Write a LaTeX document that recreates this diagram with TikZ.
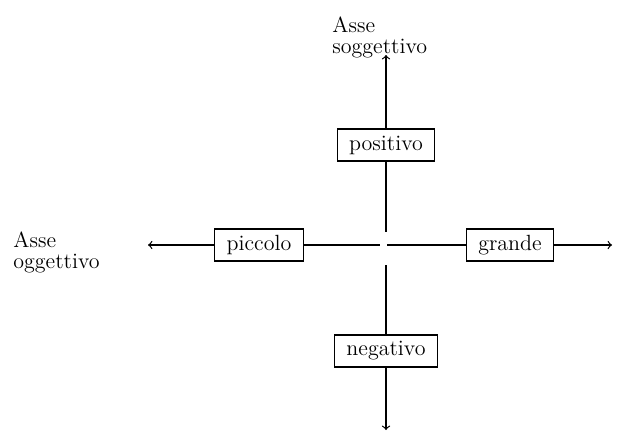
\documentclass[tikz,border=0pt]{standalone}
\usetikzlibrary{calc}
\usetikzlibrary{arrows}

\tikzset{
	casella/.style={draw, rectangle, line width=0.6pt, minimum height=16pt, inner xsep=6pt, inner ysep=1pt, font=\fontsize{11}{12}\selectfont},
	asse/.style={align=left, inner sep=0pt, font=\fontsize{11}{10.5}\selectfont},
	linea/.style={line width=0.6pt},
}

\begin{document}
\begin{tikzpicture}[x=0.5pt,y=-0.5pt]
			\useasboundingbox (0,0) rectangle (620,434);
			\coordinate (centro) at (386,245);

			\coordinate (su) at ($(centro)+(0,-190)$);
			\coordinate (giu) at ($(centro)+(0,185)$);
			\coordinate (sx) at ($(centro)+(-238,0)$);
			\coordinate (dx) at ($(centro)+(226,0)$);
			%interruzioni vicino al centro
			\coordinate (su0) at ($(centro)+(0,-13)$);
			\coordinate (giu0) at ($(centro)+(0,20)$);
			\coordinate (sx0) at ($(centro)+(-6,0)$);
			\coordinate (dx0) at ($(centro)+(1,0)$);

			\node[casella] (positivo) at ($(centro)+(0,-100)$) {positivo};
			\node[casella] (negativo) at ($(centro)+(0,106)$) {negativo};
			\node[casella] (piccolo) at ($(centro)+(-127,0)$) {piccolo};
			\node[casella] (grande) at ($(centro)+(124,0)$) {grande};

			\node[asse, anchor=west] (soggettivo) at (332,37) {Asse\\soggettivo};
			\node[asse, anchor=west] (oggettivo) at (13,252) {Asse\\oggettivo};

			\draw[linea, ->, >=to] (positivo) -- (su);
			\draw[linea] (positivo) -- (su0);
			\draw[linea] (giu0) -- (negativo);
			\draw[linea, ->, >=to] (negativo) -- (giu);

			\draw[linea, ->, >=to] (piccolo) -- (sx);
			\draw[linea] (piccolo) -- (sx0);
			\draw[linea] (dx0) -- (grande);
			\draw[linea, ->, >=to] (grande) -- (dx);

		\end{tikzpicture}
\end{document}
